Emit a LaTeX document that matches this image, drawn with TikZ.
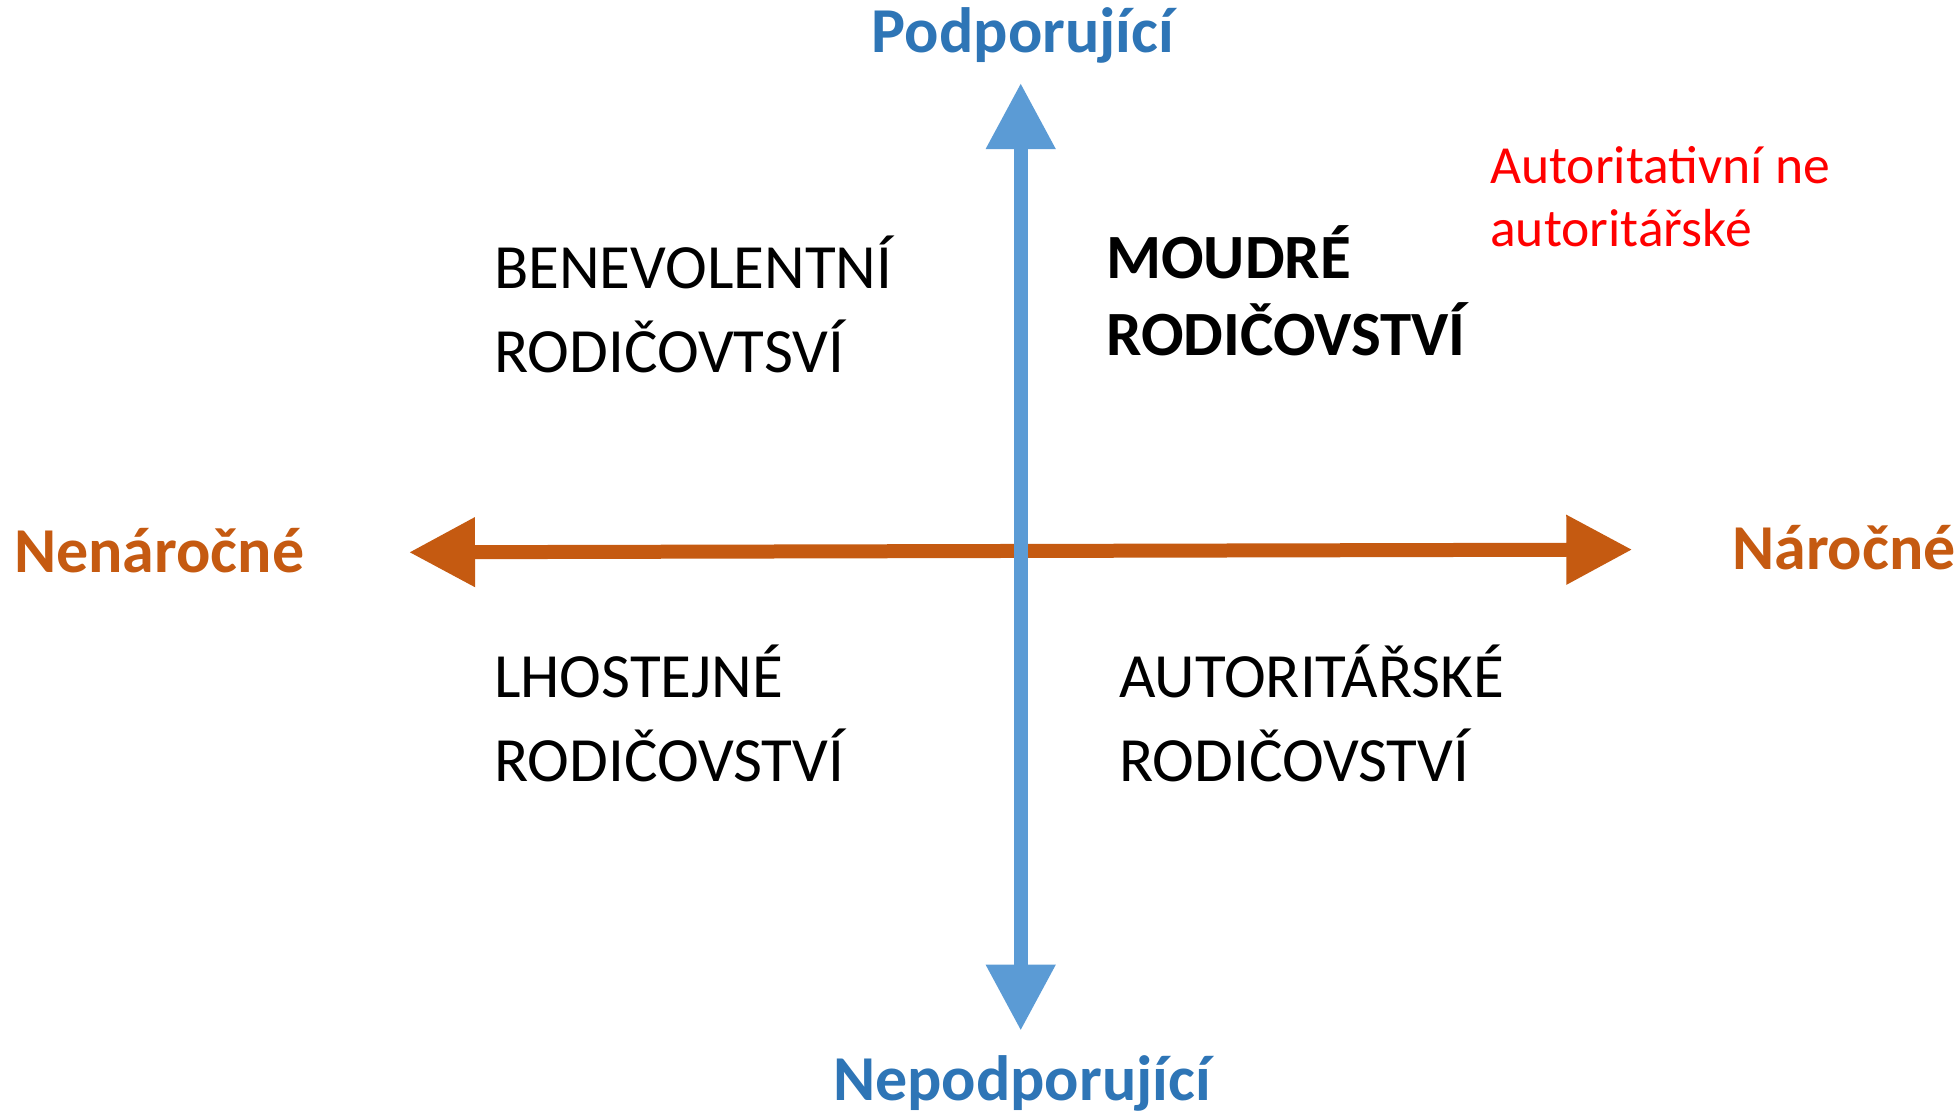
\documentclass[tikz,border=0pt]{standalone}
\usepackage{fontspec}
\setmainfont{Carlito}
\usetikzlibrary{arrows.meta}
\definecolor{axblue}{HTML}{5B9BD5}
\definecolor{lblblue}{HTML}{2E75B6}
\definecolor{axorange}{HTML}{C55A11}
\definecolor{redtxt}{HTML}{FF0000}
\tikzset{
  tri/.tip={Triangle[length=66pt,width=66pt]},
  axisarrow/.style={line width=14pt, tri-tri},
  axislabel/.style={inner sep=0pt, font=\fontsize{64}{76}\selectfont\bfseries},
  quadtext/.style={inner sep=0pt, anchor=base west, align=left, font=\fontsize{63}{84.4}\selectfont},
}
\begin{document}
\begin{tikzpicture}[x=1pt,y=-1pt]
\useasboundingbox (0,0) rectangle (1959,1113);
\coordinate (hl) at (409,552.3);
\coordinate (hr) at (1632.3,549.6);
\coordinate (vt) at (1020.7,83);
\coordinate (vb) at (1020.7,1030.7);
\draw[axisarrow, axorange] (hl) -- (hr);
\draw[axisarrow, axblue] (vt) -- (vb);
\node[axislabel, lblblue, anchor=base] (pod) at (1023,53) {Podporující};
\node[axislabel, lblblue, anchor=base] (nepod) at (1022,1100.5) {Nepodporující};
\node[axislabel, axorange, anchor=base west] (nen) at (14,572.7) {Nenáročné};
\node[axislabel, axorange, anchor=base west] (nar) at (1732,569.3) {Náročné};
\node[quadtext] (ben) at (494,372.7) {BENEVOLENTNÍ\\RODIČOVTSVÍ};
\node[quadtext] (lho) at (494,781.7) {LHOSTEJNÉ\\RODIČOVSTVÍ};
\node[quadtext] (aut) at (1119,781.7) {AUTORITÁŘSKÉ\\RODIČOVSTVÍ};
\node[quadtext, font=\fontsize{63}{76.7}\selectfont\bfseries] (moud) at (1106,355) {MOUDRÉ\\RODIČOVSTVÍ};
\node[quadtext, redtxt, font=\fontsize{53.6}{62.7}\selectfont] (red) at (1490,246) {Autoritativní ne\\autoritářské};
\end{tikzpicture}
\end{document}
